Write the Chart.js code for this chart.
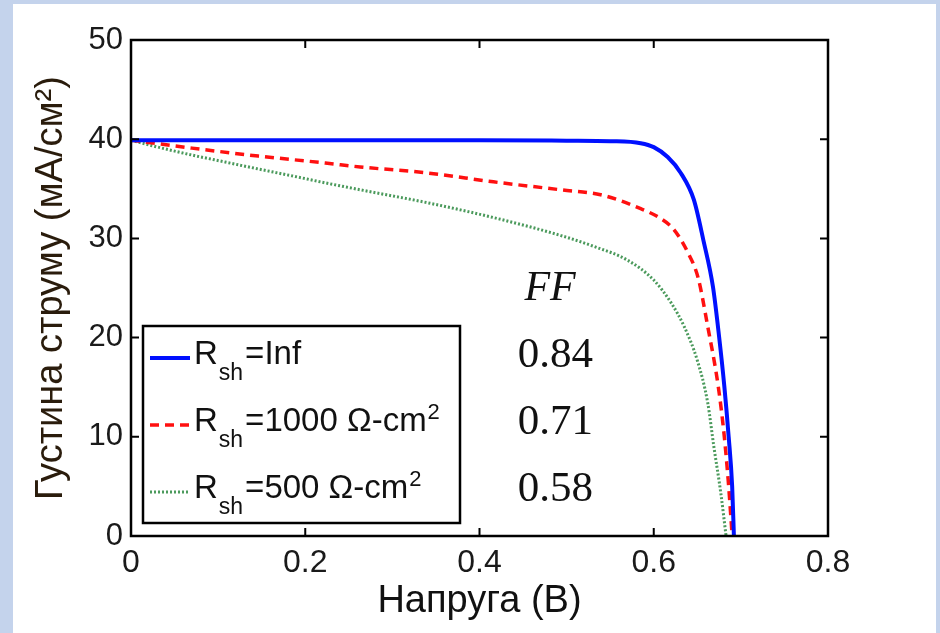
<!DOCTYPE html>
<html>
<head>
<meta charset="utf-8">
<script src="https://cdn.jsdelivr.net/npm/chart.js@4"></script>
<style>
  html, body { margin: 0; padding: 0; }
  body { width: 940px; height: 633px; background: #c4d3ec; position: relative; overflow: hidden; }
  #wrap { position: absolute; left: 13px; top: 4px; width: 923px; height: 629px; background: #fff; }
</style>
</head>
<body>
<div id="wrap"><canvas id="ivChart" width="923" height="629"></canvas></div>
<script>
// tick values
const xTicks = [0, 0.2, 0.4, 0.6, 0.8];
const yTicks = [0, 10, 20, 30, 40, 50];

// Rsh = Inf
const vInf = [0, 0.1, 0.2, 0.3, 0.4, 0.5, 0.55, 0.585, 0.6, 0.616, 0.631, 0.646, 0.657, 0.668, 0.675, 0.681, 0.686, 0.690, 0.692];
const jInf = [39.9, 39.9, 39.9, 39.9, 39.9, 39.85, 39.8, 39.6, 39.2, 38.2, 36.6, 33.9, 29.8, 25.1, 20.1, 15.1, 10, 5, 0];

// Rsh = 1000 Ohm-cm2
const vR1000 = [0, 0.07, 0.146, 0.223, 0.263, 0.34, 0.416, 0.493, 0.539, 0.585, 0.608, 0.623, 0.639, 0.651, 0.662, 0.674, 0.681, 0.686, 0.69];
const jR1000 = [39.9, 39.1, 38.3, 37.6, 37.2, 36.6, 35.7, 34.9, 34.4, 33.0, 32.0, 30.9, 28.6, 26.0, 21.1, 15.1, 10, 5, 0];

// Rsh = 500 Ohm-cm2
const vR500 = [0, 0.031, 0.07, 0.108, 0.146, 0.185, 0.223, 0.269, 0.34, 0.416, 0.493, 0.531, 0.57, 0.6, 0.62, 0.635, 0.65, 0.662, 0.669, 0.677, 0.683];
const jR500 = [39.9, 39.2, 38.4, 37.7, 37.0, 36.3, 35.6, 34.8, 33.6, 32.1, 30.3, 29.2, 27.8, 25.8, 23.5, 21.1, 17.7, 13.4, 9, 4.3, 0];

// legend text pieces: R + sub + rest + sup
const legendSub = ['sh', 'sh', 'sh'];
const legendRest = ['=Inf', '=1000 \u03A9-cm', '=500 \u03A9-cm'];
const legendSup = ['', '2', '2'];

// fill factor column
const ffTitle = 'FF';
const ffValues = ['0.84', '0.71', '0.58'];

const toPoints = (xs, ys) => xs.map((x, i) => ({ x: x, y: ys[i] }));

const SANS = '"Liberation Sans", Arial, sans-serif';
const SERIF = '"Liberation Serif", "Times New Roman", serif';

// axes box with inward ticks, legend box and FF column
const matlabDecor = {
    id: 'matlabDecor',
    afterDatasetsDraw(chart) {
        const ctx = chart.ctx;
        const a = chart.chartArea;
        const xs = chart.scales.x, ys = chart.scales.y;
        ctx.save();
        ctx.strokeStyle = '#000';
        ctx.lineWidth = 2;
        // inward ticks
        xTicks.forEach(v => {
            const px = xs.getPixelForValue(v);
            ctx.beginPath();
            ctx.moveTo(px, a.bottom); ctx.lineTo(px, a.bottom - 8);
            ctx.moveTo(px, a.top); ctx.lineTo(px, a.top + 8);
            ctx.stroke();
        });
        yTicks.forEach(v => {
            const py = ys.getPixelForValue(v);
            ctx.beginPath();
            ctx.moveTo(a.left, py); ctx.lineTo(a.left + 8, py);
            ctx.moveTo(a.right, py); ctx.lineTo(a.right - 8, py);
            ctx.stroke();
        });
        ctx.lineWidth = 2.5;
        ctx.strokeRect(a.left, a.top, a.right - a.left, a.bottom - a.top);

        // legend
        const lx = a.left + 12, ly = 322, lw = 317, lh = 197;
        ctx.fillStyle = '#fff';
        ctx.fillRect(lx, ly, lw, lh);
        ctx.lineWidth = 2.5;
        ctx.strokeRect(lx, ly, lw, lh);
        chart.data.datasets.forEach((ds, i) => {
            const cy = ly + 32 + i * 67;
            ctx.save();
            ctx.strokeStyle = ds.borderColor;
            ctx.lineWidth = ds.borderWidth;
            ctx.setLineDash(ds.borderDash || []);
            ctx.beginPath();
            ctx.moveTo(lx + 7, cy); ctx.lineTo(lx + 47, cy);
            ctx.stroke();
            ctx.restore();
            ctx.fillStyle = '#111';
            ctx.textBaseline = 'alphabetic';
            ctx.textAlign = 'left';
            let tx = lx + 51;
            const base = cy + 6;
            ctx.font = '33px ' + SANS;
            ctx.fillText('R', tx, base);
            tx += ctx.measureText('R').width + 1;
            ctx.font = '23px ' + SANS;
            ctx.fillText(legendSub[i], tx, base + 16);
            tx += ctx.measureText(legendSub[i]).width + 2;
            ctx.font = '33px ' + SANS;
            ctx.fillText(legendRest[i], tx, base);
            tx += ctx.measureText(legendRest[i]).width + 1;
            if (legendSup[i]) {
                ctx.font = '22px ' + SANS;
                ctx.fillText(legendSup[i], tx, base - 12);
            }
        });

        // FF column
        ctx.fillStyle = '#111';
        ctx.textAlign = 'center';
        ctx.font = 'italic 42px ' + SERIF;
        ctx.fillText(ffTitle, xs.getPixelForValue(0.481), ys.getPixelForValue(23.8));
        ctx.font = '43px ' + SERIF;
        ffValues.forEach((t, i) => {
            ctx.fillText(t, xs.getPixelForValue(0.487), ys.getPixelForValue(17.0 - i * 6.75));
        });
        ctx.restore();
    }
};

const ctx = document.getElementById('ivChart').getContext('2d');
new Chart(ctx, {
    type: 'line',
    data: {
        datasets: [
            {
                label: 'Rsh=Inf',
                data: toPoints(vInf, jInf),
                borderColor: '#0010ff',
                borderWidth: 4,
                cubicInterpolationMode: 'monotone'
            },
            {
                label: 'Rsh=1000',
                data: toPoints(vR1000, jR1000),
                borderColor: '#ff1010',
                borderWidth: 3.5,
                borderDash: [9, 6],
                cubicInterpolationMode: 'monotone'
            },
            {
                label: 'Rsh=500',
                data: toPoints(vR500, jR500),
                borderColor: '#4b9a5c',
                borderWidth: 3,
                borderDash: [2, 2],
                cubicInterpolationMode: 'monotone'
            }
        ]
    },
    options: {
        responsive: false,
        animation: false,
        events: [],
        elements: { point: { radius: 0 } },
        layout: { padding: { left: 0, right: 108, top: 36, bottom: 0 } },
        plugins: {
            legend: { display: false },
            tooltip: { enabled: false }
        },
        scales: {
            x: {
                type: 'linear',
                min: 0,
                max: 0.8,
                afterBuildTicks: s => { s.ticks = xTicks.map(v => ({ value: v })); },
                afterFit: s => { s.height = 97; },
                grid: { display: false, drawTicks: false },
                border: { display: false },
                ticks: {
                    padding: 8,
                    color: '#1a1a1a',
                    font: { family: SANS, size: 32 },
                    callback: v => String(v)
                },
                title: {
                    display: true,
                    text: 'Напруга (В)',
                    color: '#111',
                    font: { family: SANS, size: 38 },
                    padding: { bottom: 9 }
                }
            },
            y: {
                type: 'linear',
                min: 0,
                max: 50,
                afterBuildTicks: s => { s.ticks = yTicks.map(v => ({ value: v })); },
                afterFit: s => { s.width = 118; },
                grid: { display: false, drawTicks: false },
                border: { display: false },
                ticks: {
                    padding: 8,
                    color: '#1a1a1a',
                    font: { family: SANS, size: 31 },
                    callback: v => String(v)
                },
                title: {
                    display: true,
                    text: 'Густина струму (мА/см²)',
                    color: '#2a1c0c',
                    font: { family: SANS, size: 38 },
                    padding: { top: 16 }
                }
            }
        }
    },
    plugins: [matlabDecor]
});
</script>
</body>
</html>
